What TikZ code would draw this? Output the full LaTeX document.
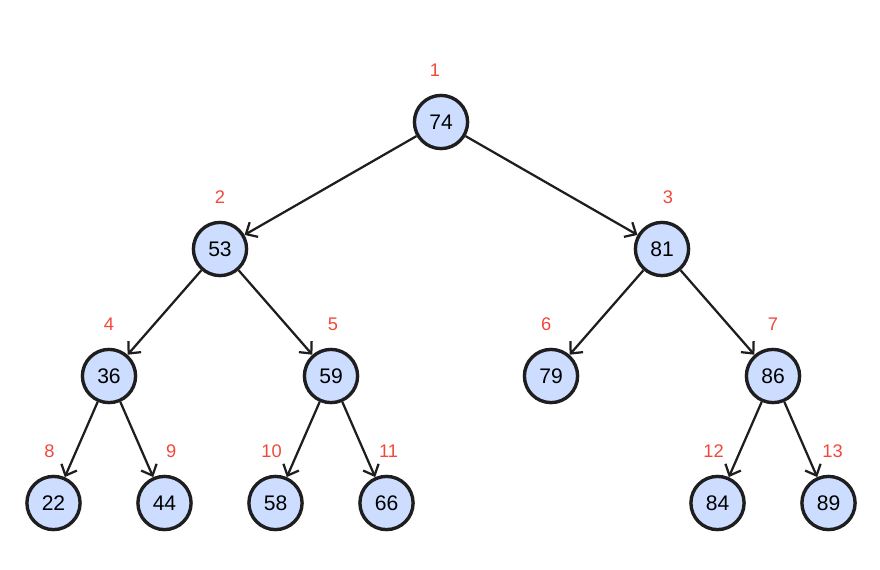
\documentclass[tikz,border=0pt]{standalone}
\usepackage{fontspec}
\setmainfont{Liberation Sans}
\usepackage{xcolor}
\definecolor{colorFill}{HTML}{CCDDFF}
\definecolor{colorIndex}{HTML}{F0483A}
\definecolor{colorLine}{HTML}{1E1E1E}
\usetikzlibrary{arrows.meta, positioning}
\tikzset{heap/.style={circle, draw=colorLine, line width=2.4pt, fill=colorFill, minimum size=1.33cm, inner sep=0pt, font=\fontsize{15}{17}\selectfont}}
\tikzset{index/.style={text=colorIndex, inner sep=0pt, font=\fontsize{13}{15}\selectfont}}

\begin{document}
\begin{tikzpicture}[>={Straight Barb[length=6.5pt,width=12pt]}, line width=1.6pt, draw=colorLine, on grid, node distance=3.175cm and 5.525cm, every label/.style={index}, label distance=0.4cm]
\useasboundingbox (0,0) rectangle (22,-14.225);
\node[heap, label={[xshift=-0.15cm]above:1}] (q1) at (11.025,-3.05) {74};
\node[heap, below left=of q1, label={above:2}] (q2) {53};
\node[heap, below right=of q1, label={[xshift=0.15cm]above:3}] (q3) {81};
% third row
\node[heap, below left=3.175cm and 2.775cm of q2, label={above:4}] (q4) {36};
\node[heap, below right=3.175cm and 2.775cm of q2, label={[xshift=0.05cm]above:5}] (q5) {59};
\node[heap, below left=3.175cm and 2.775cm of q3, label={[xshift=-0.12cm]above:6}] (q6) {79};
\node[heap, below right=3.175cm and 2.775cm of q3, label={above:7}] (q7) {86};
% leaves
\node[heap, below left=3.175cm and 1.3875cm of q4, label={[xshift=-0.1cm]above:8}] (q8) {22};
\node[heap, below right=3.175cm and 1.3875cm of q4, label={[xshift=0.17cm]above:9}] (q9) {44};
\node[heap, below left=3.175cm and 1.3875cm of q5, label={[xshift=-0.1cm]above:10}] (q10) {58};
\node[heap, below right=3.175cm and 1.3875cm of q5, label={[xshift=0.05cm]above:11}] (q11) {66};
\node[heap, below left=3.175cm and 1.3875cm of q7, label={[xshift=-0.1cm]above:12}] (q12) {84};
\node[heap, below right=3.175cm and 1.3875cm of q7, label={[xshift=0.1cm]above:13}] (q13) {89};
\draw[->, colorLine] (q1) -- (q2);
\draw[->, colorLine] (q1) -- (q3);
\draw[->, colorLine] (q2) -- (q4);
\draw[->, colorLine] (q2) -- (q5);
\draw[->, colorLine] (q3) -- (q6);
\draw[->, colorLine] (q3) -- (q7);
\draw[->, colorLine] (q4) -- (q8);
\draw[->, colorLine] (q4) -- (q9);
\draw[->, colorLine] (q5) -- (q10);
\draw[->, colorLine] (q5) -- (q11);
\draw[->, colorLine] (q7) -- (q12);
\draw[->, colorLine] (q7) -- (q13);
\end{tikzpicture}
\end{document}
